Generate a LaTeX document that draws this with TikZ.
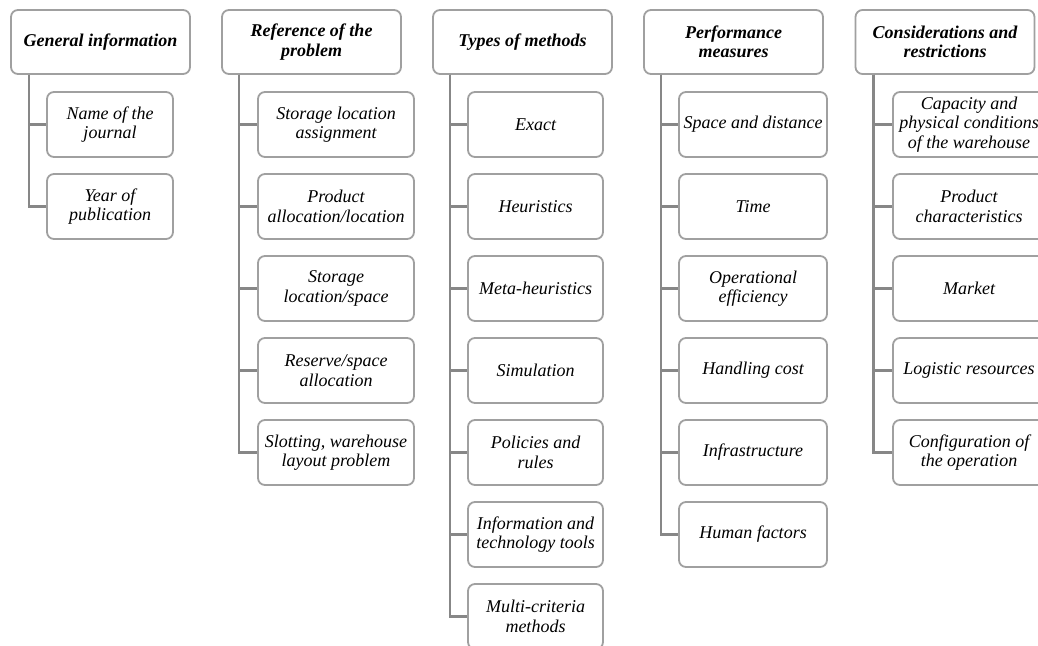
\documentclass[tikz,border=0pt]{standalone}
\usepackage{fontspec}
\setmainfont{Liberation Serif}
\definecolor{boxgray}{RGB}{160,160,160}
\definecolor{linegray}{RGB}{135,135,135}
\tikzset{
	box/.style={draw=boxgray, line width=1.8pt, rounded corners=7pt, fill=white, align=center, inner sep=2pt,
		font=\fontsize{18}{19.5}\selectfont\itshape},
	head/.style={box, minimum width=179pt, minimum height=64pt, font=\fontsize{18}{19.5}\selectfont\bfseries\itshape},
	leaf/.style={box, minimum height=65pt},
	tree/.style={draw=linegray, line width=2.6pt}
}
\begin{document}
\begin{tikzpicture}[x=1pt, y=-1pt]
		
		\useasboundingbox (0, 0) rectangle (1038, 645);
		
		% headers
		\node [head] (gen) at (100.5, 42) {General information};
		\node [head] (ref) at (311.5, 42) {Reference of the\\problem};
		\node [head] (typ) at (522.5, 42) {Types of methods};
		\node [head] (per) at (733.5, 42) {Performance\\measures};
		\node [head] (con) at (945, 42) {Considerations and\\restrictions};
		
		% general information
		\node [leaf, minimum width=126pt] (gen1) at (110, 124.5) {Name of the\\journal};
		\node [leaf, minimum width=126pt] (gen2) at (110, 206.5) {Year of\\publication};
		
		% reference of the problem
		\node [leaf, minimum width=156pt] (ref1) at (336, 124.5) {Storage location\\assignment};
		\node [leaf, minimum width=156pt] (ref2) at (336, 206.5) {Product\\allocation/location};
		\node [leaf, minimum width=156pt] (ref3) at (336, 288.5) {Storage\\location/space};
		\node [leaf, minimum width=156pt] (ref4) at (336, 370.5) {Reserve/space\\allocation};
		\node [leaf, minimum width=156pt] (ref5) at (336, 452.5) {Slotting, warehouse\\layout problem};
		
		% types of methods
		\node [leaf, minimum width=135pt] (typ1) at (535.5, 124.5) {Exact};
		\node [leaf, minimum width=135pt] (typ2) at (535.5, 206.5) {Heuristics};
		\node [leaf, minimum width=135pt] (typ3) at (535.5, 288.5) {Meta-heuristics};
		\node [leaf, minimum width=135pt] (typ4) at (535.5, 370.5) {Simulation};
		\node [leaf, minimum width=135pt] (typ5) at (535.5, 452.5) {Policies and\\rules};
		\node [leaf, minimum width=135pt] (typ6) at (535.5, 534.5) {Information and\\technology tools};
		\node [leaf, minimum width=135pt] (typ7) at (535.5, 616.5) {Multi-criteria\\methods};
		
		% performance measures
		\node [leaf, minimum width=148pt] (per1) at (753, 124.5) {Space and distance};
		\node [leaf, minimum width=148pt] (per2) at (753, 206.5) {Time};
		\node [leaf, minimum width=148pt] (per3) at (753, 288.5) {Operational\\efficiency};
		\node [leaf, minimum width=148pt] (per4) at (753, 370.5) {Handling cost};
		\node [leaf, minimum width=148pt] (per5) at (753, 452.5) {Infrastructure};
		\node [leaf, minimum width=148pt] (per6) at (753, 534.5) {Human factors};
		
		% considerations and restrictions
		\node [leaf, minimum width=152pt] (con1) at (969, 124.5) {Capacity and\\physical conditions\\of the warehouse};
		\node [leaf, minimum width=152pt] (con2) at (969, 206.5) {Product\\characteristics};
		\node [leaf, minimum width=152pt] (con3) at (969, 288.5) {Market};
		\node [leaf, minimum width=152pt] (con4) at (969, 370.5) {Logistic resources};
		\node [leaf, minimum width=152pt] (con5) at (969, 452.5) {Configuration of\\the operation};
		
		% trunks
		\coordinate [xshift=19pt] (gent) at (gen.south west);
		\coordinate [xshift=18pt] (reft) at (ref.south west);
		\coordinate [xshift=18pt] (typt) at (typ.south west);
		\coordinate [xshift=18pt] (pert) at (per.south west);
		\coordinate [xshift=19pt] (cont) at (con.south west);
		
		\draw [tree] (gent) |- (gen1.west);
		\draw [tree] (gent) |- (gen2.west);
		
		\draw [tree] (reft) |- (ref1.west);
		\draw [tree] (reft) |- (ref2.west);
		\draw [tree] (reft) |- (ref3.west);
		\draw [tree] (reft) |- (ref4.west);
		\draw [tree] (reft) |- (ref5.west);
		
		\draw [tree] (typt) |- (typ1.west);
		\draw [tree] (typt) |- (typ2.west);
		\draw [tree] (typt) |- (typ3.west);
		\draw [tree] (typt) |- (typ4.west);
		\draw [tree] (typt) |- (typ5.west);
		\draw [tree] (typt) |- (typ6.west);
		\draw [tree] (typt) |- (typ7.west);
		
		\draw [tree] (pert) |- (per1.west);
		\draw [tree] (pert) |- (per2.west);
		\draw [tree] (pert) |- (per3.west);
		\draw [tree] (pert) |- (per4.west);
		\draw [tree] (pert) |- (per5.west);
		\draw [tree] (pert) |- (per6.west);
		
		\draw [tree] (cont) |- (con1.west);
		\draw [tree] (cont) |- (con2.west);
		\draw [tree] (cont) |- (con3.west);
		\draw [tree] (cont) |- (con4.west);
		\draw [tree] (cont) |- (con5.west);
		
\end{tikzpicture}
\end{document}
